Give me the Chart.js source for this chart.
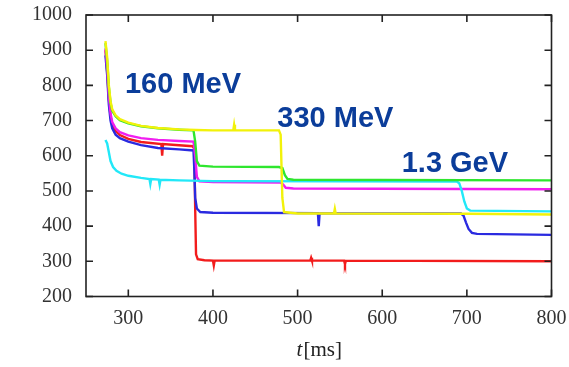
<!DOCTYPE html>
<html>
<head>
<meta charset="utf-8">
<script src="https://cdn.jsdelivr.net/npm/chart.js@4/dist/chart.umd.min.js"></script>
<style>
  html, body { margin: 0; padding: 0; background: #fff; }
  canvas { display: block; }
</style>
</head>
<body>
<canvas id="chart" width="569" height="367" style="width:569px;height:367px"></canvas>
<script>
// tick values
const xTicks = [300, 400, 500, 600, 700, 800];
const yTicks = [200, 300, 400, 500, 600, 700, 800, 900, 1000];

// each trace: time [ms] and value
const redT = [273, 275, 277, 279, 281, 285, 290, 300, 315, 339, 340, 341, 360, 376, 378, 379, 380, 382, 390, 400, 401, 402, 515, 516, 517, 555, 556, 557, 800];
const redV = [900, 840, 760, 712, 688, 670, 659, 648, 639, 633, 600, 633, 630, 627, 620, 450, 320, 306, 303, 302, 288, 302, 302, 310, 302, 302, 292, 302, 300];

const blueT = [273, 275, 277, 279, 281, 285, 290, 300, 315, 335, 360, 377, 378, 379, 381, 385, 400, 524, 525, 526, 693, 696, 699, 702, 706, 712, 800];
const blueV = [885, 830, 745, 700, 678, 660, 650, 640, 630, 622, 618, 615, 560, 480, 450, 440, 438, 437, 400, 437, 436, 430, 410, 392, 381, 378, 375];

const magentaT = [273, 275, 277, 279, 281, 285, 290, 300, 315, 335, 360, 377, 379, 381, 384, 400, 480, 483, 486, 495, 800];
const magentaV = [905, 850, 770, 720, 696, 678, 667, 658, 650, 645, 642, 640, 600, 540, 527, 525, 524, 518, 509, 507, 505];

const cyanT = [273, 275, 277, 279, 282, 286, 292, 300, 315, 325, 326, 327, 336, 337, 338, 360, 400, 688, 691, 694, 697, 700, 704, 800];
const cyanV = [645, 635, 610, 585, 568, 557, 549, 543, 537, 534, 520, 534, 532, 518, 532, 530, 528, 527, 522, 500, 470, 450, 444, 442];

const greenT = [273, 275, 277, 279, 281, 285, 290, 300, 315, 335, 360, 377, 379, 381, 384, 400, 478, 482, 485, 488, 495, 800];
const greenV = [920, 870, 795, 750, 728, 712, 701, 692, 684, 678, 674, 672, 640, 585, 572, 569, 568, 565, 545, 534, 532, 530];

const yellowT = [273, 275, 277, 279, 281, 285, 290, 300, 315, 335, 360, 380, 400, 424, 425, 426, 478, 480, 482, 484, 500, 543, 544, 545, 700, 800];
const yellowV = [926, 880, 800, 755, 732, 715, 704, 694, 685, 679, 675, 673, 672, 672, 688, 672, 672, 660, 480, 440, 436, 436, 449, 436, 435, 433];

// energy labels: text, x [ms], y value at baseline
const labelText = ["160 MeV", "330 MeV", "1.3 GeV"];
const labelX = [296, 476, 623];
const labelY = [778, 682, 554];

function pts(t, v) {
  return t.map((x, i) => ({ x: x, y: v[i] }));
}

const frame = {
  id: "frame",
  afterDatasetsDraw(chart) {
    const ctx = chart.ctx;
    const a = chart.chartArea;
    const xs = chart.scales.x;
    const ys = chart.scales.y;
    ctx.save();
    ctx.strokeStyle = "#222";
    ctx.lineWidth = 1.6;
    ctx.strokeRect(a.left, a.top, a.right - a.left, a.bottom - a.top);
    ctx.beginPath();
    xTicks.forEach((v) => {
      const px = xs.getPixelForValue(v);
      ctx.moveTo(px, a.bottom);
      ctx.lineTo(px, a.bottom - 7);
      ctx.moveTo(px, a.top);
      ctx.lineTo(px, a.top + 7);
    });
    yTicks.forEach((v) => {
      const py = ys.getPixelForValue(v);
      ctx.moveTo(a.left, py);
      ctx.lineTo(a.left + 7, py);
      ctx.moveTo(a.right, py);
      ctx.lineTo(a.right - 7, py);
    });
    ctx.stroke();

    // energy labels
    ctx.fillStyle = "#0b3d9a";
    ctx.font = "bold 29px 'Liberation Sans', Arial, sans-serif";
    ctx.textBaseline = "alphabetic";
    ctx.textAlign = "left";
    labelText.forEach((txt, i) => {
      ctx.fillText(txt, xs.getPixelForValue(labelX[i]), ys.getPixelForValue(labelY[i]));
    });

    // axis title t[ms]
    ctx.fillStyle = "#222";
    ctx.textBaseline = "middle";
    const cx = (a.left + a.right) / 2;
    ctx.font = "italic 21px 'Liberation Serif', serif";
    const w1 = ctx.measureText("t").width;
    ctx.font = "21px 'Liberation Serif', serif";
    const w2 = ctx.measureText("[ms]").width;
    const x0 = cx - (w1 + w2) / 2;
    ctx.font = "italic 21px 'Liberation Serif', serif";
    ctx.fillText("t", x0, 350);
    ctx.font = "21px 'Liberation Serif', serif";
    ctx.fillText("[ms]", x0 + w1 + 1, 350);
    ctx.restore();
  },
};

const line = (data, color) => ({
  data: data,
  borderColor: color,
  borderWidth: 2.4,
  pointRadius: 0,
  tension: 0,
  fill: false,
});

new Chart(document.getElementById("chart"), {
  type: "line",
  data: {
    datasets: [
      line(pts(yellowT, yellowV), "#f2f20a"),
      line(pts(greenT, greenV), "#2ee62e"),
      line(pts(cyanT, cyanV), "#22e8f8"),
      line(pts(magentaT, magentaV), "#f01ef0"),
      line(pts(blueT, blueV), "#2a2ae0"),
      line(pts(redT, redV), "#f21c1c"),
    ],
  },
  options: {
    responsive: false,
    animation: false,
    layout: { padding: { left: 0, right: 17.5, top: 15, bottom: 0 } },
    plugins: { legend: { display: false }, tooltip: { enabled: false } },
    scales: {
      x: {
        type: "linear",
        min: 250,
        max: 800,
        grid: { display: false, drawTicks: false },
        border: { display: false },
        afterBuildTicks: (s) => { s.ticks = xTicks.map((v) => ({ value: v })); },
        afterFit: (s) => {
          s.height = 70.5;
          s.paddingLeft = 0;
          s.paddingRight = 0;
        },
        ticks: {
          font: { family: "'Liberation Serif', serif", size: 20 },
          color: "#333",
          padding: 10,
          maxRotation: 0,
          autoSkip: false,
          callback: (v) => String(v),
        },
      },
      y: {
        min: 200,
        max: 1000,
        grid: { display: false, drawTicks: false },
        border: { display: false },
        afterBuildTicks: (s) => { s.ticks = yTicks.map((v) => ({ value: v })); },
        afterFit: (s) => {
          s.width = 86;
          s.paddingTop = 0;
          s.paddingBottom = 0;
        },
        ticks: {
          font: { family: "'Liberation Serif', serif", size: 20 },
          color: "#333",
          padding: 14,
          autoSkip: false,
          callback: (v) => String(v),
        },
      },
    },
  },
  plugins: [frame],
});
</script>
</body>
</html>
